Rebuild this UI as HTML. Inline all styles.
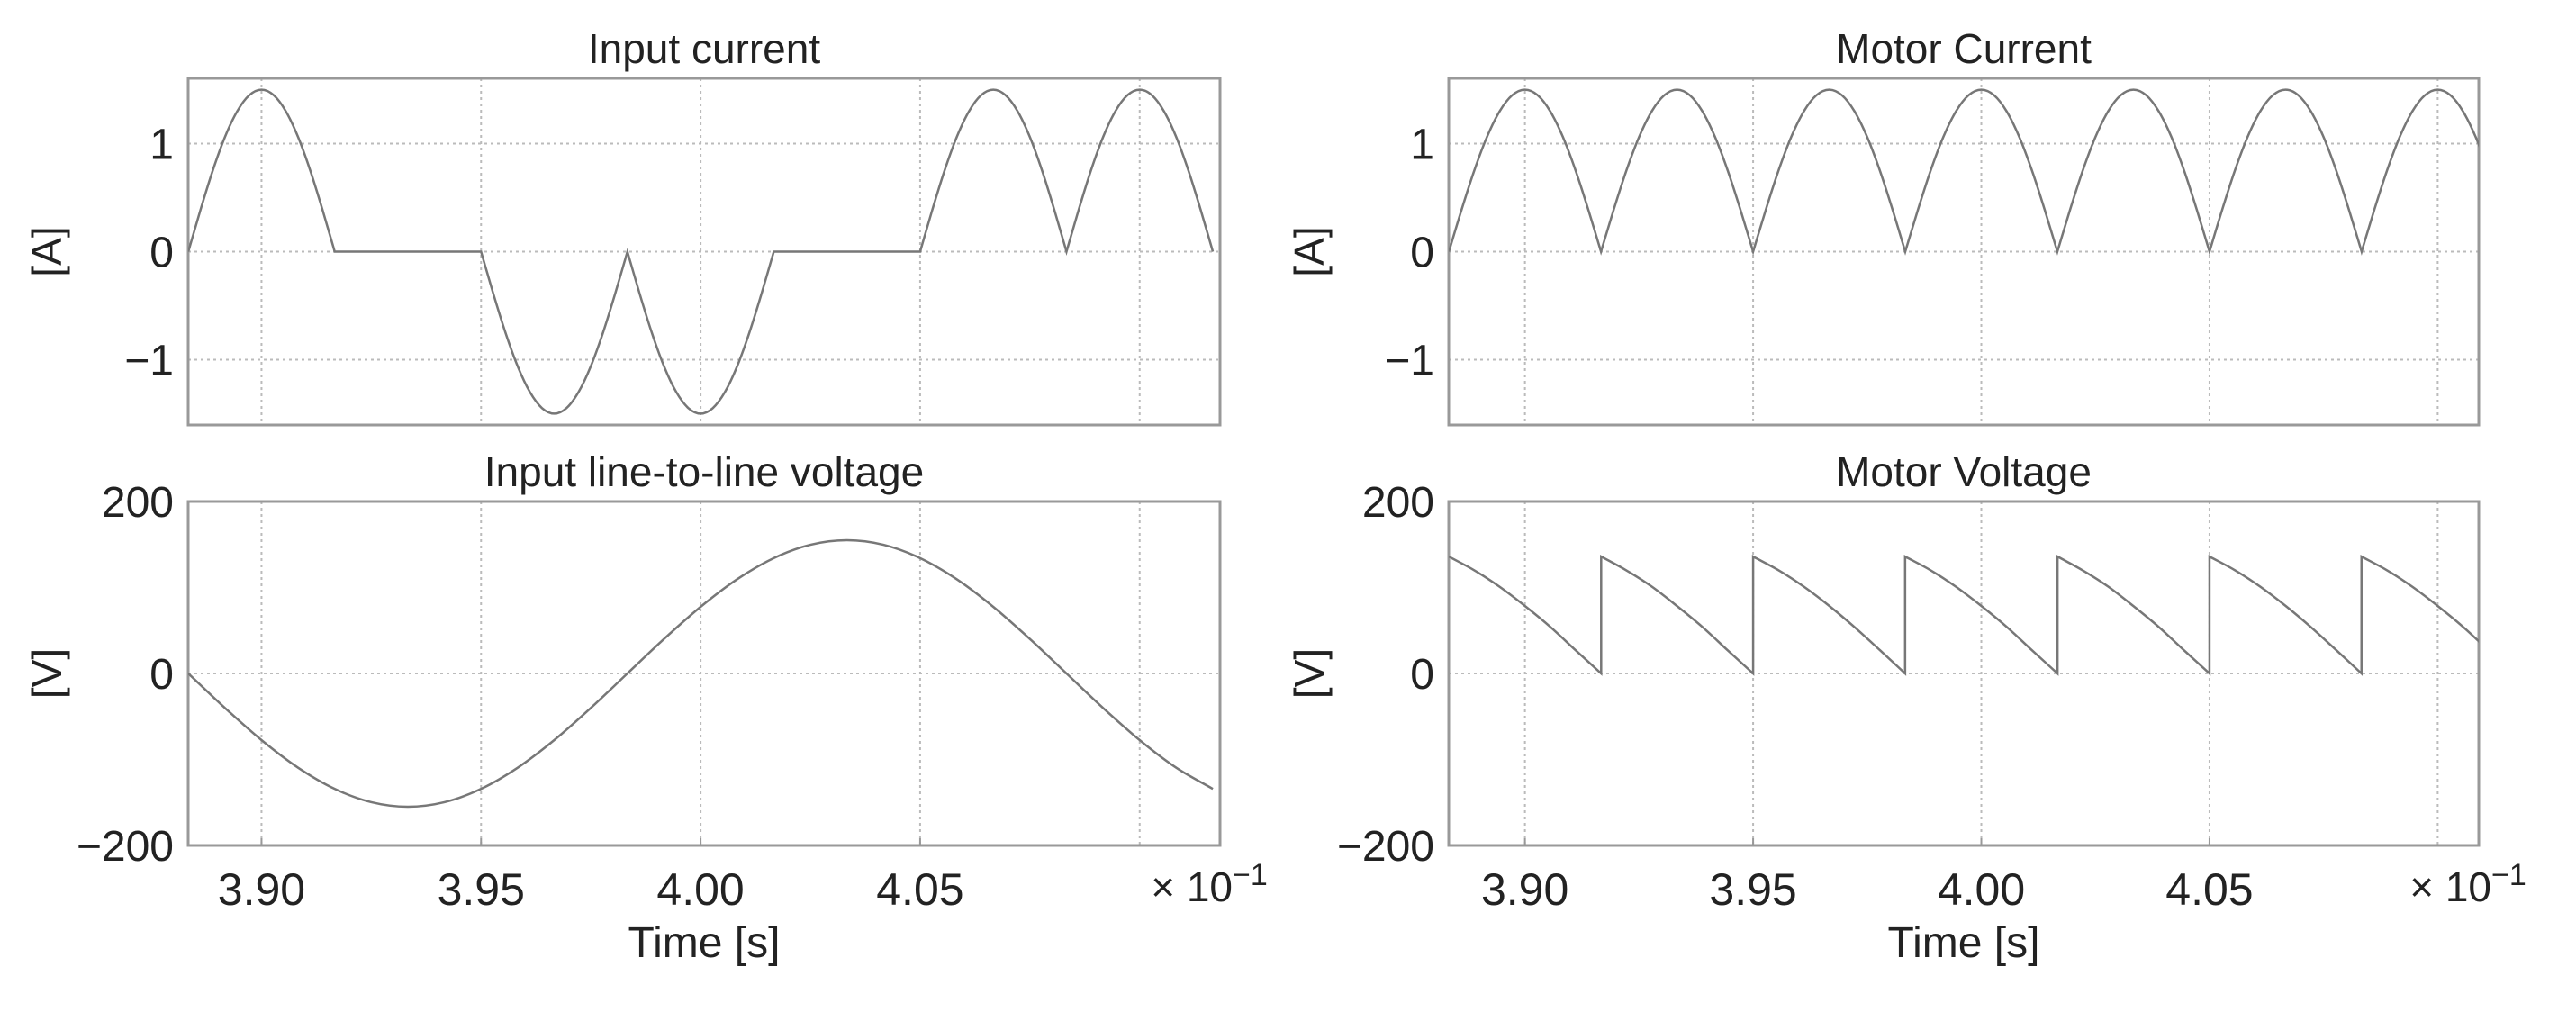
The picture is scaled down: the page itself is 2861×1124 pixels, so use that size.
<!DOCTYPE html>
<html><head><meta charset="utf-8"><style>
html,body{margin:0;padding:0;background:#fff;}
svg{display:block;}
text{font-family:"Liberation Sans","DejaVu Sans",sans-serif;fill:#222;}
</style></head><body>
<svg id="fig" width="2861" height="1124" viewBox="0 0 2861 1124" xmlns="http://www.w3.org/2000/svg"></svg>
<script>
// ---- data (time in units of x10^-1 s) ----
const currentStep = 0.0333333 / 12;
const currentStart = 3.883333;
const motorCurrent = [
 0,.388,.75,1.061,1.299,1.449,1.5,1.449,1.299,1.061,.75,.388,
 0,.388,.75,1.061,1.299,1.449,1.5,1.449,1.299,1.061,.75,.388,
 0,.388,.75,1.061,1.299,1.449,1.5,1.449,1.299,1.061,.75,.388,
 0,.388,.75,1.061,1.299,1.449,1.5,1.449,1.299,1.061,.75,.388,
 0,.388,.75,1.061,1.299,1.449,1.5,1.449,1.299,1.061,.75,.388,
 0,.388,.75,1.061,1.299,1.449,1.5,1.449,1.299,1.061,.75,.388,
 0,.388,.75,1.061,1.299,1.449,1.5,1.449,1.299,1.061,.75,.388,0];
const inputCurrent = [
 0,.388,.75,1.061,1.299,1.449,1.5,1.449,1.299,1.061,.75,.388,
 0,0,0,0,0,0,0,0,0,0,0,0,
 0,-.388,-.75,-1.061,-1.299,-1.449,-1.5,-1.449,-1.299,-1.061,-.75,-.388,
 0,-.388,-.75,-1.061,-1.299,-1.449,-1.5,-1.449,-1.299,-1.061,-.75,-.388,
 0,0,0,0,0,0,0,0,0,0,0,0,
 0,.388,.75,1.061,1.299,1.449,1.5,1.449,1.299,1.061,.75,.388,
 0,.388,.75,1.061,1.299,1.449,1.5,1.449,1.299,1.061,.75,.388,0];
const voltageStep = 0.0083333;
const inputVoltage = [0,-40.1,-77.5,-109.6,-134.2,-149.7,-155,-149.7,-134.2,-109.6,-77.5,-40.1,
 0,40.1,77.5,109.6,134.2,149.7,155,149.7,134.2,109.6,77.5,40.1,0,-40.1,-77.5,-109.6,-134.2];
const motorVoltageTimes = [
 3.8833,3.8889,3.8944,3.9000,3.9056,3.9111,3.9167,3.9167,3.9167,
 3.9222,3.9278,3.9333,3.9389,3.9444,3.9500,3.9500,3.9500,
 3.9556,3.9611,3.9667,3.9722,3.9778,3.9833,3.9833,3.9833,
 3.9889,3.9944,4.0000,4.0056,4.0111,4.0167,4.0167,4.0167,
 4.0222,4.0278,4.0333,4.0389,4.0444,4.0500,4.0500,4.0500,
 4.0556,4.0611,4.0667,4.0722,4.0778,4.0833,4.0833,4.0833,
 4.0889,4.0944,4.1000,4.1056,4.1111,4.1167];
const motorVoltage = [
 136,120,101,78.5,54,27,0,75,136,
 120,101,78.5,54,27,0,75,136,
 120,101,78.5,54,27,0,75,136,
 120,101,78.5,54,27,0,75,136,
 120,101,78.5,54,27,0,75,136,
 120,101,78.5,54,27,0,75,136,
 120,101,78.5,54,27,0];
const xTicks = [3.90,3.95,4.00,4.05];
const xTickLabels = ["3.90","3.95","4.00","4.05"];
const xGrid = [3.90,3.95,4.00,4.05,4.10];
const aTicks = [1,0,-1];
const aTickLabels = ["1","0","\u22121"];
const vTicks = [200,0,-200];
const vTickLabels = ["200","0","\u2212200"];

const NS="http://www.w3.org/2000/svg";
const svg=document.getElementById('fig');
function mk(tag,attrs,parent){const e=document.createElementNS(NS,tag);for(const k in attrs)e.setAttribute(k,attrs[k]);(parent||svg).appendChild(e);return e;}

function isCorner(ts,vs,i){
  if(i===0||i===ts.length-1) return true;
  if(ts[i]===ts[i-1]||ts[i]===ts[i+1]) return true;
  const a=vs[i]-vs[i-1], b=vs[i+1]-vs[i];
  if(vs[i]===0 && (a*b<0 || (a===0)!==(b===0))) return true;
  return false;
}
function smoothPath(p,ts,vs){
  let d='M'+p[0][0].toFixed(2)+','+p[0][1].toFixed(2);
  for(let i=0;i<p.length-1;i++){
    const b=p[i],c=p[i+1];
    if(ts[i]===ts[i+1]||(vs[i]===0&&vs[i+1]===0)){d+=' L'+c[0].toFixed(2)+','+c[1].toFixed(2);continue;}
    const a=isCorner(ts,vs,i)?b:p[i-1];
    const e=isCorner(ts,vs,i+1)?c:p[i+2];
    const k1=isCorner(ts,vs,i)?3:6, k2=isCorner(ts,vs,i+1)?3:6;
    d+=' C'+(b[0]+(c[0]-a[0])/k1).toFixed(2)+','+(b[1]+(c[1]-a[1])/k1).toFixed(2)+' '+(c[0]-(e[0]-b[0])/k2).toFixed(2)+','+(c[1]-(e[1]-b[1])/k2).toFixed(2)+' '+c[0].toFixed(2)+','+c[1].toFixed(2);
  }
  return d;
}

function panel(o){
  const g=mk('g',{});
  
  
  const sx=t=>o.x0+(t-o.t0)/(o.t1-o.t0)*(o.x1-o.x0);
  const sy=v=>o.y0+(o.v1-v)/(o.v1-o.v0)*(o.y1-o.y0);
  const clipId='clip-'+o.name;
  const cp=mk('clipPath',{id:clipId},g);
  mk('rect',{x:o.x0,y:o.y0,width:o.x1-o.x0,height:o.y1-o.y0},cp);
  xGrid.forEach(t=>{const l=mk('line',{x1:sx(t),x2:sx(t),y1:o.y0,y2:o.y1,stroke:'#bbb','stroke-width':2,'stroke-dasharray':'3,4'},g);
    });
  o.ticks.forEach((v,i)=>{
    if(v>o.v0&&v<o.v1){const l=mk('line',{x1:o.x0,x2:o.x1,y1:sy(v),y2:sy(v),stroke:'#bbb','stroke-width':2,'stroke-dasharray':'3,4'},g);
      }
    const tx=mk('text',{x:o.x0-16,y:sy(v)+17,'text-anchor':'end','font-size':48},g);
    tx.textContent=o.tickLabels[i];
    
  });
  const fr=mk('rect',{x:o.x0,y:o.y0,width:o.x1-o.x0,height:o.y1-o.y0,fill:'none',stroke:'#999','stroke-width':3},g);
  
  const p=o.ts.map((t,i)=>[sx(t),sy(o.vs[i])]);
  const d=smoothPath(p,o.ts,o.vs);
  const pth=mk('path',{d:d,fill:'none',stroke:'#777','stroke-width':2.5,'clip-path':'url(#'+clipId+')'},g);
  
  const ti=mk('text',{x:(o.x0+o.x1)/2,y:o.y0-17,'text-anchor':'middle','font-size':46},g);
  ti.textContent=o.title;
  
  const yl=mk('text',{x:o.ylx,y:(o.y0+o.y1)/2,'text-anchor':'middle','font-size':46,transform:'rotate(-90 '+o.ylx+' '+(o.y0+o.y1)/2+')'},g);
  yl.textContent=o.ylabel;
  
  if(o.xaxis){
    xTicks.forEach((t,i)=>{
      mk('line',{x1:sx(t),x2:sx(t),y1:o.y1,y2:o.y1-8,stroke:'#999','stroke-width':2},g);
      const tx=mk('text',{x:sx(t),y:o.y1+66,'text-anchor':'middle','font-size':50},g);
      tx.textContent=xTickLabels[i];
      
    });
    const m=mk('text',{x:o.x1-12,y:o.y1+62,'text-anchor':'middle','font-size':46},g);
    m.innerHTML='\u00d7 10<tspan dy="-18" font-size="34">\u22121</tspan>';
    
    const xl=mk('text',{x:(o.x0+o.x1)/2,y:o.y1+124,'text-anchor':'middle','font-size':48},g);
    xl.textContent='Time [s]';
    
  }
}
const curT=motorCurrent.map((v,i)=>currentStart+i*currentStep);
const inT=inputCurrent.map((v,i)=>currentStart+i*currentStep);
const vT=inputVoltage.map((v,i)=>currentStart+i*voltageStep);
const L={x0:209,x1:1355,t0:3.8833,t1:4.1183,ylx:68};
const R={x0:1609,x1:2753,t0:3.8833,t1:4.1090,ylx:1470};
const TOP={y0:87,y1:472,v0:-1.605,v1:1.605,ticks:aTicks,tickLabels:aTickLabels,ylabel:'[A]'};
const BOT={y0:557,y1:939,v0:-200,v1:200,ticks:vTicks,tickLabels:vTickLabels,ylabel:'[V]',xaxis:true};
panel(Object.assign({},L,TOP,{name:'input-current',title:'Input current',ts:inT,vs:inputCurrent}));
panel(Object.assign({},L,BOT,{name:'input-voltage',title:'Input line-to-line voltage',ts:vT,vs:inputVoltage}));
panel(Object.assign({},R,TOP,{name:'motor-current',title:'Motor Current',ts:curT,vs:motorCurrent}));
panel(Object.assign({},R,BOT,{name:'motor-voltage',title:'Motor Voltage',ts:motorVoltageTimes,vs:motorVoltage}));
</script>
</body></html>
